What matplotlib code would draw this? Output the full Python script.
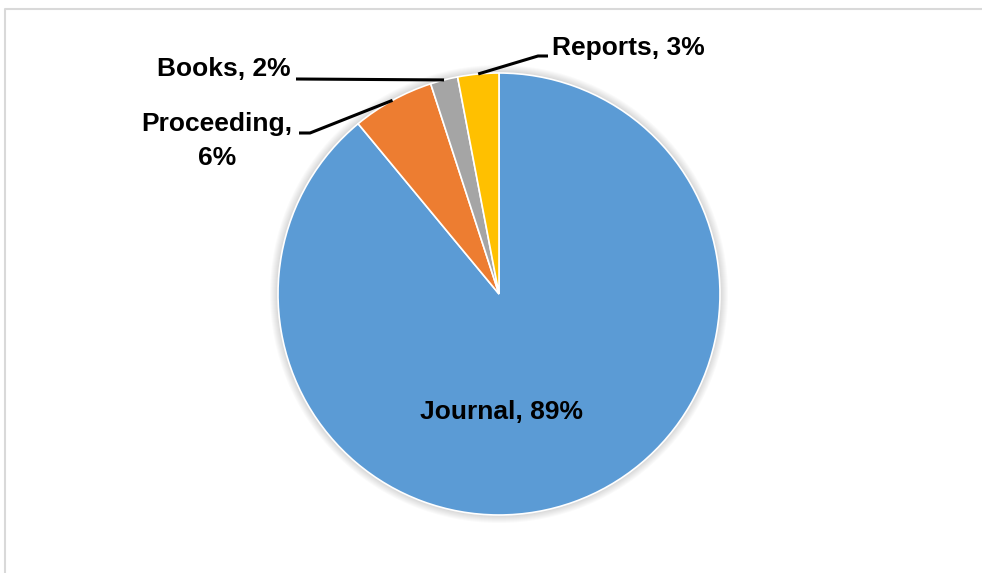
import numpy as np
import matplotlib
matplotlib.use('Agg')
import matplotlib.pyplot as plt
from matplotlib.patches import Circle

# Tipos de publicación y su porcentaje
categorias = ['Journal', 'Proceeding', 'Books', 'Reports']
porcentajes = [89, 6, 2, 3]
colores = ['#5B9BD5', '#ED7D31', '#A5A5A5', '#FFC000']

W, H = 982, 573
fig = plt.figure(figsize=(W / 100, H / 100), dpi=100)
ax = fig.add_axes([0, 0, 1, 1])

centro = (499, H - 294)
radio = 221

# Sombra suave alrededor del pastel
for k in range(8):
    ax.add_patch(Circle(centro, radio + 1 + k, color='#000000', alpha=0.018, lw=0, zorder=0))

cunas, _ = ax.pie(porcentajes, colors=colores, startangle=90, counterclock=False,
                  center=centro, radius=radio, frame=True,
                  wedgeprops=dict(edgecolor='white', linewidth=1.2))
ax.set_xlim(0, W)
ax.set_ylim(0, H)
ax.set_aspect('equal')
ax.axis('off')

fuente = dict(family=['Liberation Sans', 'DejaVu Sans'],
              fontsize=19, fontweight='bold', color='black')


def punto_borde(cuna, r=1.0):
    ang = np.deg2rad((cuna.theta1 + cuna.theta2) / 2)
    return centro[0] + r * radio * np.cos(ang), centro[1] + r * radio * np.sin(ang)


# Etiqueta interna
ax.text(502, H - 412, f'{categorias[0]}, {porcentajes[0]}%', ha='center', va='center', **fuente)

# Proceeding con línea guía
x0, y0 = punto_borde(cunas[1])
ax.plot([x0, 310, 299], [y0, H - 133, H - 133], color='black', lw=2.2, solid_capstyle='butt')
ax.text(217, H - 141, f'{categorias[1]},\n{porcentajes[1]}%', ha='center', va='center',
        linespacing=1.5, **fuente)

# Books con línea guía
x0, y0 = punto_borde(cunas[2])
ax.plot([x0, 296], [y0, H - 79], color='black', lw=2.2, solid_capstyle='butt')
ax.text(291, H - 69, f'{categorias[2]}, {porcentajes[2]}%', ha='right', va='center', **fuente)

# Reports con línea guía
x0, y0 = punto_borde(cunas[3])
ax.plot([x0, 538, 548], [y0, H - 56, H - 56], color='black', lw=2.2, solid_capstyle='butt')
ax.text(552, H - 48, f'{categorias[3]}, {porcentajes[3]}%', ha='left', va='center', **fuente)

# Marco del área del gráfico
ax.plot([5.5, 5.5, W + 5], [-5, H - 8.5, H - 8.5], color='#D9D9D9', lw=1.5, clip_on=False)

fig.savefig('out.png', dpi=100, facecolor='white')
